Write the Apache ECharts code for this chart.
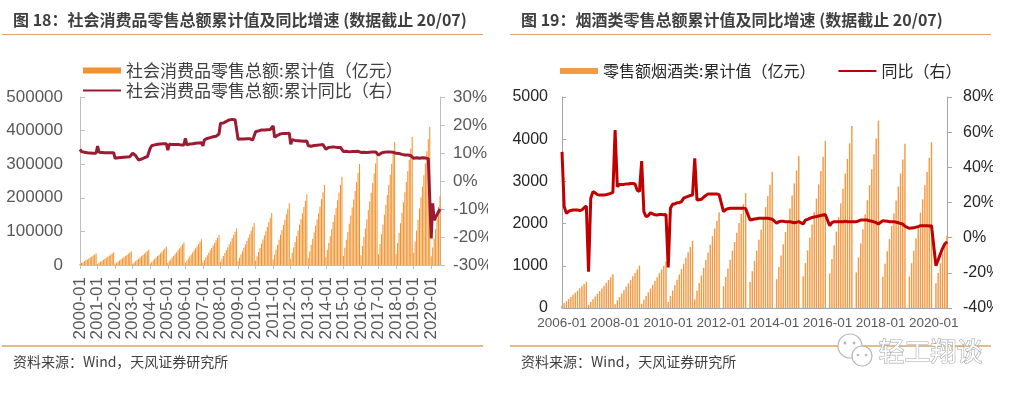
<!DOCTYPE html>
<html><head><meta charset="utf-8">
<script src="https://cdn.jsdelivr.net/npm/echarts@6/dist/echarts.min.js"></script>
<style>
html,body{margin:0;padding:0;background:#fff;width:1011px;height:395px;overflow:hidden}
#c1{position:absolute;left:0;top:0;width:488px;height:395px}
#c2{position:absolute;left:505px;top:0;width:488px;height:395px}
</style></head><body>
<div id="c1"></div><div id="c2"></div>
<script>
// ---------- DATA ----------
var monthCodes = ['01','02','03','04','05','06','07','08','09','10','11','12'];
var yearsA = [2000,2001,2002,2003,2004,2005,2006,2007,2008,2009,2010,2011,2012,2013,2014,2015,2016,2017,2018,2019,2020];
var yearsB = [2006,2007,2008,2009,2010,2011,2012,2013,2014,2015,2016,2017,2018,2019,2020];
var lastMonth = 7; // data ends 2020-07

var titleA = '图 18：社会消费品零售总额累计值及同比增速 (数据截止 20/07)';
var titleB = '图 19：烟酒类零售总额累计值及同比增速 (数据截止 20/07)';
var sourceText = '资料来源：Wind，天风证券研究所';
var nameA1 = '社会消费品零售总额:累计值（亿元）';
var nameA2 = '社会消费品零售总额:累计同比（右）';
var nameB1 = '零售额烟酒类:累计值（亿元）';
var nameB2 = '同比（右）';

// 社会消费品零售总额 累计值 (亿元), monthly 2000-01 .. 2020-07
var retailCum = [
3010,5810,8540,11170,13930,16740,19400,22130,25030,28070,31080,34150,
3310,6390,9400,12290,15340,18420,21350,24360,27560,30900,34210,37600,
3600,6960,10230,13380,16690,20050,23240,26510,29990,33630,37230,40910,
4030,7790,11460,14990,18700,22460,26040,29710,33600,37680,41720,45840,
4750,9170,13490,17640,22010,26440,30640,34960,39550,44350,49100,53950,
5910,11420,16790,21970,27410,32920,38160,43530,49240,55220,61130,67180,
6720,12990,19100,24990,31180,37440,43400,49510,56010,62810,69530,76410,
7850,15170,22300,29170,36400,43710,50670,57810,65390,73330,81180,89210,
9550,18440,27120,35480,44260,53160,61620,70300,79520,89180,98720,108490,
11030,21310,31340,40990,51140,61420,71200,81220,91880,103030,114060,125340,
13600,26270,38640,50540,63060,75730,87790,100150,113290,127040,140640,154550,
16190,31270,45980,60140,75040,90120,104470,119180,134810,151180,167370,183920,
18510,35750,52580,68770,85810,103050,119450,136280,154160,172870,191380,210310,
20930,40430,59450,77760,97030,116530,135080,154100,174320,195480,216410,237810,
23090,44610,65600,85800,107060,128570,149040,170030,192340,215690,238780,262390,
26480,51160,75230,98400,122780,147460,170930,195000,220580,247370,273850,300930,
29240,56490,83080,108670,135590,162840,188760,215340,243590,273160,302410,332320,
32230,62270,91570,119770,149440,179470,208040,237340,268470,301070,333300,366260,
33530,64770,95250,124580,155440,186680,216400,246880,279260,313170,346700,380990,
36230,69980,102910,134610,167950,201710,233820,266750,301740,338380,374600,411650,
26000,52130,78580,106760,138750,172260,203920
];
// 社会消费品零售总额 累计同比 (%)
var retailYoY = [
11.3,10.5,10.4,10.3,10.2,10.1,10.1,10.0,10.0,9.9,9.9,9.9,
12.5,10.3,10.2,10.2,10.1,10.1,10.1,10.1,10.1,10.1,10.1,10.1,
8.1,8.2,8.3,8.3,8.4,8.5,8.5,8.6,8.6,8.6,8.7,8.8,
9.9,9.3,9.1,8.5,7.5,7.6,7.8,8.0,8.3,8.5,8.7,9.1,
11.7,12.6,12.7,12.9,13.0,13.1,13.1,13.2,13.3,13.3,13.4,13.3,
11.0,13.1,13.0,13.0,13.1,13.0,13.0,13.0,12.9,12.9,12.9,12.9,
15.2,12.9,13.0,13.2,13.3,13.3,13.4,13.5,13.5,13.6,13.6,13.7,
12.5,14.7,15.0,15.2,15.4,15.5,15.6,15.8,15.9,16.0,16.1,16.8,
20.6,20.6,20.7,21.0,21.3,21.5,21.8,21.9,22.0,22.0,21.9,21.6,
14.9,15.2,15.0,15.0,15.0,15.0,15.1,15.1,15.1,15.2,14.6,14.3,
17.6,17.9,17.9,18.1,18.2,18.2,18.2,18.3,18.3,18.3,18.4,18.4,
19.7,15.6,16.0,16.3,16.6,16.8,16.9,17.0,17.0,17.0,17.1,17.1,
13.1,14.7,14.8,14.5,14.4,14.4,14.3,14.3,14.2,14.2,14.2,14.3,
12.6,12.3,12.4,12.6,12.7,12.8,12.8,12.8,12.9,12.9,13.0,13.1,
11.4,11.8,12.0,12.0,12.1,12.1,12.1,12.1,12.0,12.0,12.0,12.0,
10.5,10.7,10.6,10.4,10.4,10.4,10.5,10.5,10.5,10.6,10.6,10.7,
10.2,10.2,10.3,10.3,10.2,10.3,10.3,10.3,10.4,10.3,10.4,10.4,
9.3,9.5,10.0,10.2,10.3,10.4,10.4,10.4,10.4,10.3,10.3,10.2,
9.9,9.7,9.8,9.7,9.5,9.4,9.3,9.3,9.3,9.2,9.1,9.0,
8.1,8.2,8.3,8.0,8.1,8.4,8.3,8.2,8.2,8.1,8.0,8.0,
-20.5,-8.0,-14.0,-13.0,-12.0,-11.0,-10.0
];
// 零售额 烟酒类 累计值 (亿元), monthly 2006-01 .. 2020-07
var liquorCum = [
56,112,162,212,262,312,361,411,467,517,567,623,
72,144,208,272,336,400,464,528,600,664,728,800,
90,181,261,341,421,502,582,662,752,832,913,1003,
99,198,286,374,462,550,638,726,825,913,1001,1100,
143,286,413,541,668,795,922,1049,1193,1320,1447,1590,
204,409,590,772,953,1135,1317,1498,1703,1884,2066,2270,
null,517,734,938,1142,1360,1564,1782,2013,2230,2462,2720,
null,614,872,1114,1357,1615,1857,2116,2390,2649,2923,3230,
null,684,972,1242,1512,1800,2070,2358,2664,2952,3258,3600,
null,752,1069,1366,1663,1980,2277,2594,2930,3247,3584,3960,
null,819,1164,1487,1810,2155,2478,2823,3189,3534,3901,4310,
null,844,1199,1532,1865,2220,2553,2908,3286,3641,4018,4440,
null,739,1050,1342,1634,1945,2237,2548,2879,3190,3520,3890,
null,747,1061,1356,1651,1965,2260,2574,2908,3223,3557,3930,
null,585,830,1060,1290,1500,1713
];
// 烟酒类 累计同比 (%)
var liquorYoY = [
48.8,17.6,13.8,14.9,15.5,15.7,15.7,15.7,15.5,15.7,17.0,18.0,
-19.4,22.4,26.2,25.5,24.5,24.2,24.2,24.2,24.5,24.8,25.2,25.8,
61.2,29.0,30.3,30.3,30.3,30.5,30.5,30.8,30.8,30.5,27.0,26.2,
43.6,14.8,11.9,12.5,14.2,13.5,13.0,12.9,13.2,13.2,13.0,13.2,
-16.9,16.7,19.1,19.1,19.9,19.9,20.5,22.5,23.0,23.5,24.0,24.2,
45.1,21.4,21.6,21.8,23.0,24.0,24.8,24.8,24.8,24.8,24.8,24.5,
null,14.8,16.0,16.5,16.7,16.7,16.7,16.7,16.8,16.8,16.8,16.5,
null,10.0,10.3,10.6,10.8,11.0,11.0,11.0,11.0,11.0,10.8,10.5,
null,8.2,9.1,9.3,9.3,9.1,9.1,9.0,8.8,8.5,8.8,9.1,
null,7.8,10.0,10.4,11.0,11.5,11.8,12.0,12.3,12.6,12.9,13.2,
null,6.8,8.5,9.1,9.1,9.1,9.1,9.1,9.3,9.1,9.1,9.1,
null,9.1,9.5,10.0,10.0,10.0,10.0,9.6,9.3,9.0,8.5,7.8,
null,9.7,9.5,9.3,9.1,9.1,9.1,8.8,8.5,8.0,7.8,6.5,
null,5.3,5.5,5.6,6.0,6.3,6.8,6.8,6.8,6.8,6.6,6.8,
null,-16.0,-12.7,-9.3,-6.1,-3.6,-2.3
];

// ---------- BUILD ----------
function monthCats(years){
  var out=[];
  years.forEach(function(y,i){
    var n = (i===years.length-1)? lastMonth : 12;
    for(var m=0;m<n;m++) out.push(y+'-'+monthCodes[m]);
  });
  return out;
}
var catsA = monthCats(yearsA);
var catsB = monthCats(yearsB);

var FONT = '"Liberation Sans","Noto Sans CJK SC",sans-serif';
var CJK = '"Noto Sans CJK SC","Liberation Sans",sans-serif';
var orange = '#F0922E';
var frameCol = '#E2A261';
function plain(v){ return String(v); }

function frame(title, tx){
  return [
    {type:'text', left:tx, top:12, style:{text:title, font:'bold 16px '+CJK, fill:'#3F3F3F'}},
    {type:'line', shape:{x1:tx-11,y1:34.5,x2:483+(tx-13),y2:34.5}, style:{stroke:frameCol,lineWidth:1}},
    {type:'line', shape:{x1:tx-11,y1:346,x2:483+(tx-13),y2:346}, style:{stroke:frameCol,lineWidth:1.5}},
    {type:'text', left:tx, top:355, style:{text:sourceText, font:'14px '+CJK, fill:'#404040'}}
  ];
}

var c1 = echarts.init(document.getElementById('c1'));
c1.setOption({
  animation:false,
  textStyle:{fontFamily:FONT},
  graphic: frame(titleA, 13),
  legend:{
    orient:'vertical', left:77, top:57, itemWidth:38, itemHeight:6, itemGap:3,
    textStyle:{fontSize:17, color:'#404040', fontFamily:CJK},
    data:[{name:nameA1, icon:'rect'}, {name:nameA2, itemStyle:{opacity:0}}]
  },
  grid:{left:80, right:48, top:97, bottom:130, outerBoundsMode:'none', containLabel:false},
  xAxis:{
    type:'category', data:catsA, boundaryGap:false,
    axisLine:{lineStyle:{color:'#BFBFBF'}},
    axisTick:{show:true, interval:function(i){return i%12===0;}, length:4, lineStyle:{color:'#BFBFBF'}},
    axisLabel:{interval:function(i){return i%12===0;}, rotate:90, margin:12, fontSize:17, color:'#595959'}
  },
  yAxis:[
    {type:'value', min:0, max:500000, interval:100000,
     axisLine:{show:true, lineStyle:{color:'#BFBFBF'}},
     axisTick:{show:true, inside:true, length:5, lineStyle:{color:'#BFBFBF'}},
     splitLine:{show:false},
     axisLabel:{fontSize:17, color:'#595959', margin:17, formatter:plain}},
    {type:'value', min:-30, max:30, interval:10, position:'right',
     axisLine:{show:true, lineStyle:{color:'#BFBFBF'}},
     axisTick:{show:true, length:5, lineStyle:{color:'#BFBFBF'}},
     splitLine:{show:false},
     axisLabel:{fontSize:17, color:'#595959', margin:13, formatter:'{value}%'}}
  ],
  series:[
    {name:nameA1, type:'bar', data:retailCum, yAxisIndex:0, barCategoryGap:'30%',
     itemStyle:{color:orange}},
    {name:nameA2, type:'line', data:retailYoY, yAxisIndex:1, symbol:'none', z:5,
     lineStyle:{color:'#9B1B33', width:3}, itemStyle:{color:'#9B1B33'}}
  ]
});

var c2 = echarts.init(document.getElementById('c2'));
var g2 = frame(titleB, 16);
// watermark
g2.push({type:'circle', shape:{cx:345,cy:346,r:12}, style:{fill:'#fff', stroke:'#b8b8b8', lineWidth:1.2}});
g2.push({type:'circle', shape:{cx:357,cy:356,r:10}, style:{fill:'#fff', stroke:'#b8b8b8', lineWidth:1.2}});
g2.push({type:'circle', shape:{cx:340,cy:343,r:1.5}, style:{fill:'#b8b8b8'}});
g2.push({type:'circle', shape:{cx:349,cy:343,r:1.5}, style:{fill:'#b8b8b8'}});
g2.push({type:'circle', shape:{cx:353,cy:355,r:1.3}, style:{fill:'#b8b8b8'}});
g2.push({type:'circle', shape:{cx:361,cy:355,r:1.3}, style:{fill:'#b8b8b8'}});
g2.push({type:'text', left:373, top:338, style:{text:'轻工翔谈', font:'26px '+CJK, fill:'#ffffff', stroke:'#a8a8a8', lineWidth:1.2}});
c2.setOption({
  animation:false,
  textStyle:{fontFamily:FONT},
  graphic: g2,
  legend:{
    orient:'horizontal', left:50, top:58, itemWidth:38, itemHeight:6, itemGap:22,
    textStyle:{fontSize:16, color:'#262626', fontFamily:CJK},
    data:[{name:nameB1, icon:'rect'}, {name:nameB2, itemStyle:{opacity:0}}]
  },
  grid:{left:57, right:46, top:97, bottom:87, outerBoundsMode:'none', containLabel:false},
  xAxis:{
    type:'category', data:catsB, boundaryGap:false,
    axisLine:{lineStyle:{color:'#A6A6A6'}},
    axisTick:{show:false},
    axisLabel:{interval:function(i){return i%24===0;}, margin:9, fontSize:13.5, color:'#595959'}
  },
  yAxis:[
    {type:'value', min:0, max:5000, interval:1000,
     axisLine:{show:true, lineStyle:{color:'#A6A6A6'}},
     axisTick:{show:true, inside:true, length:4, lineStyle:{color:'#A6A6A6'}},
     splitLine:{show:false},
     axisLabel:{fontSize:16, color:'#262626', margin:14, formatter:plain}},
    {type:'value', min:-40, max:80, interval:20, position:'right',
     axisLine:{show:true, lineStyle:{color:'#A6A6A6'}},
     axisTick:{show:true, length:5, lineStyle:{color:'#A6A6A6'}},
     splitLine:{show:false},
     axisLabel:{fontSize:16, color:'#262626', margin:16, formatter:'{value}%'}}
  ],
  series:[
    {name:nameB1, type:'bar', data:liquorCum, yAxisIndex:0, barCategoryGap:'35%',
     itemStyle:{color:'#F39A45'}},
    {name:nameB2, type:'line', data:liquorYoY, yAxisIndex:1, symbol:'none', connectNulls:true, z:5,
     lineStyle:{color:'#C00000', width:3}, itemStyle:{color:'#C00000'}}
  ]
});
</script>
</body></html>
